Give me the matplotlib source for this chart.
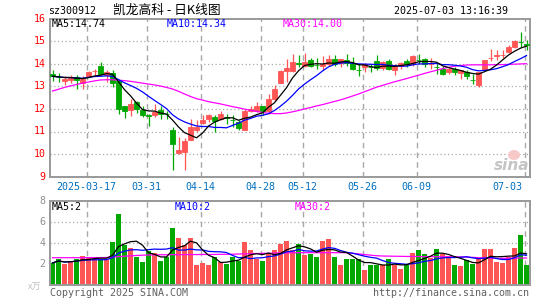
import matplotlib
matplotlib.use('Agg')
import matplotlib.pyplot as plt
from matplotlib.patches import Ellipse
import numpy as np
import pandas as pd

# ---------------- data ----------------
tick_index = [6, 16, 25, 35, 42, 52, 61, 79]
tick_labels = ['2025-03-17', '03-31', '04-14', '04-28', '05-12', '05-26', '06-09', '07-03']

opens = [13.53, 13.42, 13.23, 13.29, 13.41, 13.14, 13.44, 13.66, 13.92, 13.52,
         13.58, 13.22, 12.11, 11.93, 12.29, 11.96, 11.72, 11.71, 11.93, 11.78,
         11.05, 10.04, 10.09, 10.63, 11.08, 11.37, 11.56, 11.64, 11.56, 11.62,
         11.50, 11.42, 11.08, 11.90, 11.90, 12.15, 11.90, 12.42, 13.14, 13.67,
         13.67, 14.01, 13.89, 14.17, 13.96, 13.92, 14.00, 14.22, 14.03, 14.17,
         14.03, 13.74, 13.85, 13.86, 14.11, 13.82, 14.14, 13.70, 13.89, 14.14,
         14.00, 14.18, 14.19, 13.99, 13.86, 13.78, 13.63, 13.78, 13.58, 13.63,
         13.30, 13.04, 13.73, 14.24, 14.36, 14.39, 14.51, 14.73, 14.97, 14.86]
closes = [13.44, 13.40, 13.33, 13.38, 13.26, 13.33, 13.63, 13.68, 13.55, 13.63,
          13.16, 12.01, 11.90, 12.20, 12.01, 11.74, 11.70, 11.86, 11.78, 11.77,
          10.43, 10.16, 10.60, 11.22, 11.19, 11.49, 11.71, 11.46, 11.76, 11.61,
          11.49, 11.17, 11.90, 12.01, 12.15, 11.90, 12.42, 12.89, 13.67, 13.81,
          14.07, 13.99, 14.07, 13.92, 13.95, 14.00, 14.22, 14.00, 14.22, 14.03,
          13.78, 13.73, 13.97, 13.85, 13.82, 14.07, 13.78, 13.88, 14.03, 14.00,
          14.34, 14.17, 13.97, 14.00, 13.85, 13.55, 13.78, 13.63, 13.70, 13.44,
          13.29, 13.63, 14.17, 14.25, 14.37, 14.40, 14.73, 15.00, 14.94, 14.82]
highs = [13.70, 13.61, 13.44, 13.48, 13.48, 13.44, 13.66, 13.78, 14.07, 13.70,
         13.70, 13.26, 12.11, 12.42, 12.33, 12.15, 11.76, 12.23, 12.15, 11.90,
         11.22, 10.75, 10.72, 11.56, 11.49, 11.71, 11.76, 11.71, 11.90, 11.78,
         11.71, 11.49, 12.01, 12.15, 12.30, 12.15, 12.64, 13.04, 13.70, 14.22,
         14.44, 14.37, 14.47, 14.26, 14.25, 14.32, 14.40, 14.40, 14.22, 14.44,
         14.29, 14.00, 14.03, 14.00, 14.40, 14.14, 14.22, 14.00, 14.07, 14.22,
         14.40, 14.44, 14.26, 14.26, 14.00, 13.92, 13.85, 13.85, 13.73, 13.70,
         13.55, 13.63, 14.17, 14.66, 14.59, 14.59, 14.81, 15.06, 15.40, 15.03]
lows = [13.23, 13.17, 13.04, 13.14, 12.89, 12.89, 13.41, 13.51, 13.48, 13.19,
        12.96, 11.76, 11.61, 11.68, 11.81, 11.64, 11.25, 11.64, 11.56, 11.56,
        9.28, 10.01, 9.28, 10.63, 10.96, 11.34, 11.42, 11.00, 11.49, 11.34,
        11.19, 11.08, 11.05, 11.86, 11.86, 11.71, 11.78, 12.37, 13.14, 13.19,
        13.63, 13.85, 13.85, 13.85, 13.78, 13.70, 13.92, 13.92, 13.85, 13.92,
        13.70, 13.44, 13.63, 13.63, 13.70, 13.70, 13.70, 13.48, 13.78, 13.85,
        13.92, 14.00, 13.85, 13.78, 13.55, 13.52, 13.55, 13.48, 13.33, 13.33,
        13.11, 12.99, 13.70, 14.14, 14.17, 14.26, 14.47, 14.71, 14.73, 14.62]
volumes = [2.10, 2.48, 2.00, 2.29, 2.48, 2.76, 2.60, 2.48, 2.48, 2.44,
           4.10, 6.76, 3.81, 3.52, 2.67, 2.19, 3.20, 3.02, 2.29, 2.67,
           5.43, 4.48, 3.81, 4.48, 1.87, 2.10, 1.90, 2.67, 2.19, 2.00,
           2.67, 2.29, 4.10, 3.33, 2.50, 2.29, 3.00, 3.30, 3.94, 4.17,
           3.30, 3.95, 2.82, 2.95, 2.64, 4.17, 4.35, 2.63, 1.90, 2.45,
           2.45, 2.50, 1.40, 1.87, 1.87, 1.90, 2.45, 1.87, 1.50, 1.90,
           3.03, 3.30, 2.92, 2.56, 3.40, 2.95, 2.72, 1.87, 1.78, 2.40,
           1.97, 2.50, 3.40, 3.40, 2.18, 2.06, 2.70, 3.50, 4.75, 1.87]
vol_colors = ('ggrrgrrrgr' 'gggrgggrgg' 'grrrrrrgrg' 'ggrrrgrrrr'
              'rgrggrrgrg' 'ggrggrgrrg' 'rggrgrrgrg' 'grrrrrrrgg')
ma30_price = [12.79, 12.87, 12.95, 13.02, 13.08, 13.14, 13.19, 13.24, 13.28, 13.29,
              13.29, 13.27, 13.25, 13.22, 13.18, 13.14, 13.10, 13.06, 13.01, 12.95,
              12.88, 12.78, 12.66, 12.55, 12.45, 12.39, 12.32, 12.27, 12.22, 12.16,
              12.10, 12.05, 11.99, 11.94, 11.89, 11.84, 11.81, 11.79, 11.79, 11.82,
              11.87, 11.93, 12.00, 12.06, 12.13, 12.19, 12.26, 12.33, 12.40, 12.48,
              12.57, 12.66, 12.76, 12.86, 12.96, 13.04, 13.12, 13.20, 13.27, 13.34,
              13.42, 13.49, 13.57, 13.64, 13.71, 13.78, 13.84, 13.89, 13.92, 13.94,
              13.95, 13.95, 13.95, 13.95, 13.96, 13.96, 13.97, 13.98, 13.99, 14.00]
ma30_volume = [2.60, 2.60, 2.60, 2.60, 2.60, 2.60, 2.61, 2.61, 2.61, 2.62,
               2.66, 2.70, 2.74, 2.78, 2.81, 2.84, 2.86, 2.87, 2.88, 2.88,
               2.89, 2.89, 2.90, 2.90, 2.90, 2.91, 2.91, 2.91, 2.92, 2.92,
               2.93, 2.95, 2.97, 2.98, 3.00, 3.01, 3.02, 3.04, 3.05, 3.06,
               3.07, 3.08, 3.08, 3.08, 3.08, 3.08, 3.08, 3.08, 3.08, 3.07,
               3.02, 2.96, 2.90, 2.84, 2.79, 2.76, 2.75, 2.74, 2.73, 2.72,
               2.72, 2.71, 2.70, 2.70, 2.69, 2.69, 2.68, 2.68, 2.67, 2.66,
               2.63, 2.60, 2.57, 2.55, 2.54, 2.54, 2.55, 2.56, 2.57, 2.57]

price_ticks = [9, 10, 11, 12, 13, 14, 15, 16]
vol_ticks = [2, 4, 6, 8]

# ---------------- style ----------------
RED = '#ff5555'
GREEN = '#00a800'
GRID = '#a8a8a8'
SPINE = '#999999'
MONO = 'DejaVu Sans Mono'
CJK = ['Noto Sans CJK SC', 'DejaVu Sans']

W, H = 545, 300
fig = plt.figure(figsize=(W / 100, H / 100), dpi=100)
fig.patch.set_facecolor('white')


def fx(px):
    return px / W


def fy(py):
    return 1 - py / H


x0, x1 = 50, 530
p_top, p_bot = 18.5, 176.7
v_top, v_bot = 201, 285
ax1 = fig.add_axes([fx(x0), fy(p_bot), (x1 - x0) / W, (p_bot - p_top) / H])
ax2 = fig.add_axes([fx(x0), fy(v_bot), (x1 - x0) / W, (v_bot - v_top) / H])

n = len(closes)
idx = np.arange(n)
xlim = (-0.42, n - 0.42)

o = np.array(opens)
c = np.array(closes)
hi = np.array(highs)
lo = np.array(lows)
v = np.array(volumes)

ma5 = pd.Series(c).rolling(5, min_periods=1).mean()
ma10 = pd.Series(c).rolling(10, min_periods=1).mean()
vma5 = pd.Series(v).rolling(5, min_periods=1).mean()
vma10 = pd.Series(v).rolling(10, min_periods=1).mean()

for ax in (ax1, ax2):
    ax.set_xlim(*xlim)
    ax.set_xticks([])
    ax.set_yticks([])
    for s in ax.spines.values():
        s.set_color(SPINE)
        s.set_linewidth(1.4)
    for t in tick_index:
        ax.axvline(t - 0.3, color=GRID, lw=1.0, ls=(0, (4, 3)), zorder=0)

ax1.set_ylim(9, 16)
for p in price_ticks[1:-1]:
    ax1.axhline(p, color=GRID, lw=0.9, ls=(0, (1, 2)), zorder=0)
ax2.set_ylim(0, 8)
for p in [4, 6]:
    ax2.axhline(p, color=GRID, lw=0.9, ls=(0, (1, 2)), zorder=0)

# candles
cols = [RED if cc >= oo else GREEN for oo, cc in zip(o, c)]
ax1.vlines(idx, lo, hi, colors=cols, lw=0.9, zorder=2)
ax1.bar(idx, np.abs(c - o), bottom=np.minimum(o, c), width=0.72,
        color=cols, edgecolor=cols, linewidth=0.6, zorder=3)
ax1.plot(idx, ma30_price, color='#ff00ff', lw=0.9, zorder=4)
ax1.plot(idx, ma10, color='#0000ff', lw=0.9, zorder=4)
ax1.plot(idx, ma5, color='black', lw=0.9, zorder=5)

# volume
vcols = [RED if ch == 'r' else GREEN for ch in vol_colors]
ax2.bar(idx, v, width=0.84, color=vcols, linewidth=0, zorder=2)
ax2.plot(idx, ma30_volume, color='#ff00ff', lw=0.9, zorder=4)
ax2.plot(idx, vma10, color='#0000ff', lw=0.9, zorder=4)
ax2.plot(idx, vma5, color='black', lw=0.9, zorder=5)

# price labels
for p in price_ticks:
    py = p_bot - (p - 9) / 7 * (p_bot - p_top)
    fig.text(fx(45.5), fy(py), str(p), color='red', family=MONO, fontsize=7.2,
             ha='right', va='center')
# volume labels
for p in vol_ticks:
    py = v_bot - p / 8 * (v_bot - v_top)
    fig.text(fx(45.5), fy(py), str(p), color='#909090', family=MONO, fontsize=7.2,
             ha='right', va='center')
fig.text(fx(28), fy(287), 'x万', color='#c0c0c0', family=CJK, fontsize=6.5,
         ha='left', va='center', style='italic')

# date labels (the last one is kept inside the frame)
for k, (t, lab) in enumerate(zip(tick_index, tick_labels)):
    px = x0 + (t - 0.3 - xlim[0]) / (xlim[1] - xlim[0]) * (x1 - x0)
    if k == len(tick_index) - 1:
        fig.text(fx(522), fy(186.5), lab, color='#0070c0', family=MONO, fontsize=7.2,
                 ha='right', va='center')
    else:
        fig.text(fx(px), fy(186.5), lab, color='#0070c0', family=MONO, fontsize=7.2,
                 ha='center', va='center')

# header
fig.text(fx(48), fy(10.8), 'sz300912', color='black', family=MONO, fontsize=7.2,
         ha='left', va='center')
fig.text(fx(113), fy(9.8), '凯龙高科 - 日K线图', color='black', family=CJK,
         fontsize=9.2, ha='left', va='center')
fig.text(fx(507.5), fy(10.8), '2025-07-03 13:16:39', color='black', family=MONO,
         fontsize=7.2, ha='right', va='center')

# legends
fig.text(fx(52), fy(23.8), 'MA5:14.74', color='black', family=MONO, fontsize=7.2,
         ha='left', va='center')
fig.text(fx(167), fy(23.8), 'MA10:14.34', color='#0000ff', family=MONO, fontsize=7.2,
         ha='left', va='center')
fig.text(fx(283), fy(23.8), 'MA30:14.00', color='#ff00ff', family=MONO, fontsize=7.2,
         ha='left', va='center')
fig.text(fx(52), fy(206.5), 'MA5:2', color='black', family=MONO, fontsize=7.2,
         ha='left', va='center')
fig.text(fx(175), fy(206.5), 'MA10:2', color='#0000ff', family=MONO, fontsize=7.2,
         ha='left', va='center')
fig.text(fx(295), fy(206.5), 'MA30:2', color='#ff00ff', family=MONO, fontsize=7.2,
         ha='left', va='center')

# footer
fig.text(fx(50), fy(293), 'Copyright 2025 SINA.COM', color='#606060', family=MONO,
         fontsize=7.2, ha='left', va='center')
fig.text(fx(529), fy(293), 'http://finance.sina.com.cn', color='#606060', family=MONO,
         fontsize=7.2, ha='right', va='center')

# watermark
fig.patches.append(Ellipse((fx(514), fy(155)), 12 / W, 10 / H, transform=fig.transFigure,
                           facecolor='#f6c8c8', edgecolor='none', zorder=6))
fig.text(fx(512), fy(165), 'sina', color='#c4c4c4', family='DejaVu Sans',
         fontsize=11, fontweight='bold', style='italic', ha='center', va='center',
         zorder=7)

fig.savefig('out.png', dpi=100, facecolor='white')
